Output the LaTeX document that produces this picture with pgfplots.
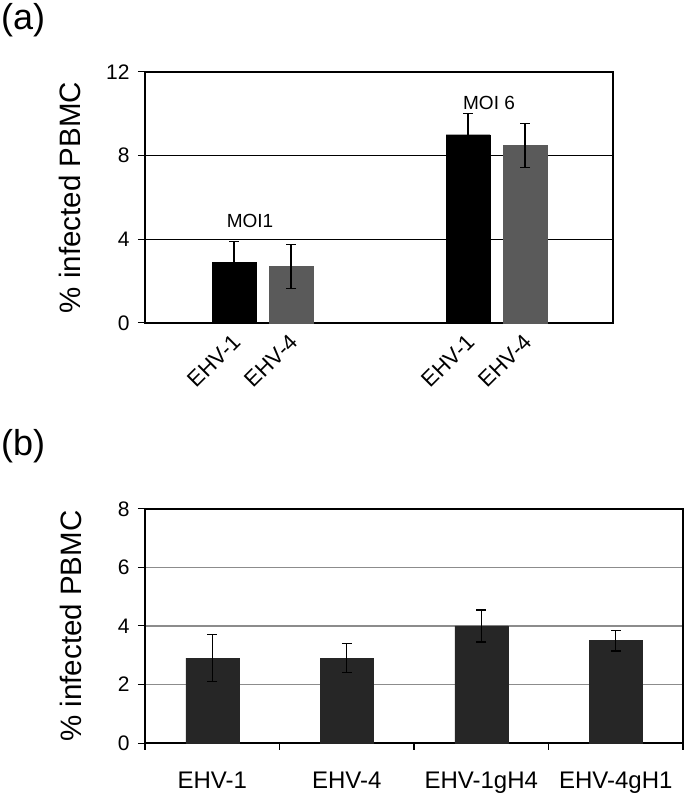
\documentclass[border=0pt]{standalone}
\usepackage{pgfplots}
\pgfplotsset{compat=1.18}
\usepackage{fontspec}
\setmainfont{Liberation Sans}
\definecolor{barblack}{HTML}{000000}
\definecolor{bargray}{HTML}{5A5A5A}
\definecolor{bardark}{HTML}{262626}
\definecolor{gridgray}{HTML}{8C8C8C}
\newcommand{\fs}[1]{\fontsize{#1bp}{#1bp}\selectfont}
\begin{document}
\begin{tikzpicture}
\useasboundingbox (0,0) rectangle (685bp,795bp);
\node[anchor=base west, inner sep=0pt] at (1bp,765.5bp) {\fs{36}(a)};
\node[anchor=base west, inner sep=0pt] at (1bp,339.5bp) {\fs{36}(b)};
% ---------------- panel (a)
\begin{axis}[
  at={(145bp,472bp)}, anchor=south west,
  scale only axis, width=468bp, height=251bp,
  xmin=145, xmax=613, ymin=0, ymax=12,
  ytick={0,4,8,12},
  xtick={234,291,468,525},
  xticklabels={EHV-1,EHV-4,EHV-1,EHV-4},
  x tick label style={rotate=45, anchor=north east, font=\fs{22}, inner sep=1bp, yshift=1bp, xshift=-3bp},
  y tick label style={font=\fs{21}, xshift=-5bp},
  /pgf/number format/assume math mode=true,
  tick align=outside,
  ytick pos=left, xtick pos=bottom,
  major tick length=7bp,
  xtick style={draw=none},
  ytick style={black, line width=1bp},
  axis line style={black, line width=1.8bp},
  ymajorgrids, grid style={black, line width=0.8bp},
  ylabel={\% infected PBMC},
  ylabel style={at={(axis description cs:-0.16,0.5)}, anchor=center, font=\fs{29.5}},
  clip=false,
]
\addplot[ybar, bar shift=0pt, bar width=44bp, fill=barblack, draw=barblack,
  error bars/.cd, y dir=both, y explicit, error mark=-,
  error bar style={black, line width=1.3bp, solid},
  error mark options={rotate=90, black, line width=1.3bp, mark size=5bp}]
  coordinates {(234,2.9) +- (0,1.0) (468,9.0) +- (0,1.0)};
\addplot[ybar, bar shift=0pt, bar width=44bp, fill=bargray, draw=bargray,
  error bars/.cd, y dir=both, y explicit, error mark=-,
  error bar style={black, line width=1.3bp, solid},
  error mark options={rotate=90, black, line width=1.3bp, mark size=5bp}]
  coordinates {(291,2.7) +- (0,1.05) (525,8.5) +- (0,1.05)};
\node[font=\fs{19}] at (axis cs:250,4.88) {MOI1};
\node[font=\fs{19}] at (axis cs:489,10.5) {MOI 6};
\end{axis}
% ---------------- panel (b)
\begin{axis}[
  at={(145bp,52bp)}, anchor=south west,
  scale only axis, width=538bp, height=234bp,
  xmin=-0.5, xmax=3.5, ymin=0, ymax=8,
  ytick={0,2,4,6,8},
  xtick={0,1,2,3},
  xticklabels={EHV-1,EHV-4,EHV-1gH4,EHV-4gH1},
  x tick label style={font=\fs{24}, yshift=-18bp},
  y tick label style={font=\fs{21}, xshift=-5bp},
  /pgf/number format/assume math mode=true,
  tick align=outside,
  ytick pos=left, xtick pos=bottom,
  major tick length=7bp,
  xtick style={draw=none},
  extra x ticks={-0.5,0.5,1.5,2.5,3.5},
  extra x tick labels={},
  extra x tick style={grid=none, major tick length=7bp, xtick style={draw=black, line width=1.2bp}},
  ytick style={black, line width=1bp},
  axis line style={black, line width=1.5bp},
  ymajorgrids, grid style={gridgray, line width=1.2bp},
  ylabel={\% infected PBMC},
  ylabel style={at={(axis description cs:-0.137,0.5)}, anchor=center, font=\fs{29.5}},
  clip=false,
]
\addplot[ybar, bar shift=0pt, bar width=53bp, fill=bardark, draw=bardark,
  error bars/.cd, y dir=both, y explicit, error mark=-,
  error bar style={black, line width=1.3bp, solid},
  error mark options={rotate=90, black, line width=1.3bp, mark size=5bp}]
  coordinates {(0,2.9) +- (0,0.8) (1,2.9) +- (0,0.5) (2,4.0) +- (0,0.55) (3,3.5) +- (0,0.35)};
\end{axis}
\end{tikzpicture}
\end{document}
